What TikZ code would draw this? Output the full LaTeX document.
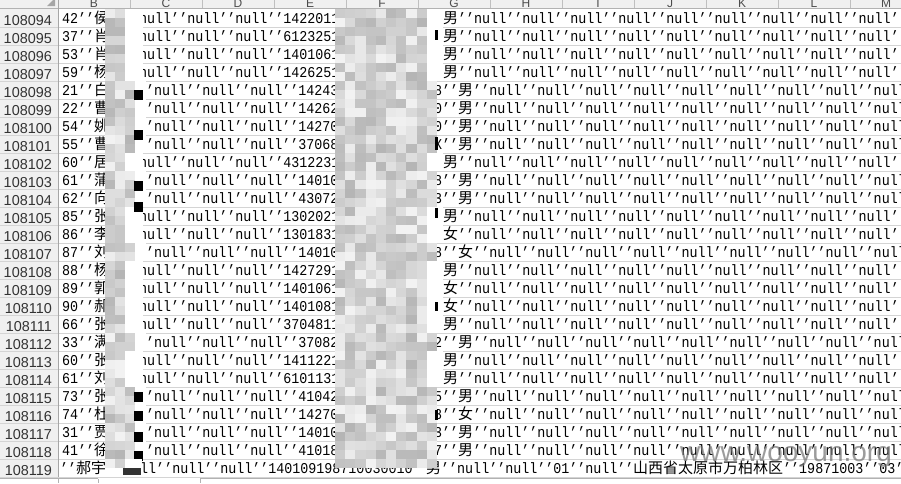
\documentclass[tikz,border=0pt]{standalone}
\usepackage{fontspec}
\setmonofont[FakeStretch=0.89]{Liberation Mono}
\newfontfamily\cjk{Noto Sans CJK SC}
\newfontfamily\numfont{Liberation Sans}
\newcommand{\zh}[1]{{\cjk #1}}
\newcommand{\nulltail}{’’null’’null’’null’’null’’null’’null’’null’’null’’null’’null’’}
\def\rowdata{108094/42/侯/0/1422011/0/男,%
108095/37/肖/0/6123251/0/男,%
108096/53/肖/0/1401061/0/男,%
108097/59/杨/0/1426251/0/男,%
108098/21/白/15/14243/8/男,%
108099/22/曹/15/14262/0/男,%
108100/54/姚/15/14270/0/男,%
108101/55/曹/15/37068/X/男,%
108102/60/居/0/4312231/0/男,%
108103/61/蒲/15/14010/8/男,%
108104/62/向/15/43072/3/男,%
108105/85/张/0/1302021/0/男,%
108106/86/李/0/1301831/0/女,%
108107/87/刘/15/14010/8/女,%
108108/88/杨/0/1427291/0/男,%
108109/89/郭/0/1401061/0/女,%
108110/90/郝/0/1401081/0/女,%
108111/66/张/0/3704811/0/男,%
108112/33/满/15/37082/2/男,%
108113/60/张/0/1411221/0/男,%
108114/61/刘/0/6101131/0/男,%
108115/73/张/15/41042/5/男,%
108116/74/杜/15/14270/8/女,%
108117/31/贾/15/14010/3/男,%
108118/41/徐/15/41018/7/男}
\begin{document}
\begin{tikzpicture}[x=1pt,y=-1pt,
    cell/.style={anchor=base west,inner sep=0pt,font=\ttfamily\fontsize{15}{15}\selectfont},
    rownum/.style={anchor=base east,inner sep=0pt,text=black!80,font=\numfont\fontsize{14.4}{14.4}\selectfont},
    colhdr/.style={anchor=base,inner sep=0pt,text=black!70,font=\numfont\fontsize{12}{12}\selectfont},
    gridline/.style={draw=black!17,line width=0.8pt},
    wmark/.style={anchor=base west,inner sep=0pt,text=black!55,opacity=0.7,font=\numfont\fontsize{28}{28}\selectfont}]
    \useasboundingbox (0,0) rectangle (901,483);
    \clip (0,0) rectangle (901,483);
    \fill[white] (0,0) rectangle (901,483);
    % sheet headers
    \fill[black!6] (0,0) rectangle (901,8);
    \fill[black!6] (0,8) rectangle (58,477);
    \foreach \x in {130,202,...,850} \draw[black!25] (\x,0) -- (\x,8);
    \foreach \l [count=\j from 0] in {B,...,M} \node[colhdr] (h\l) at (94+72*\j,7) {\l};
    \fill[black!35] (47,6) -- (55,6) -- (55,-2) -- cycle;
    \foreach \k in {1,...,26} \draw[gridline] (0,9+18*\k) -- (901,9+18*\k);
    \draw[black!30] (0,8.5) -- (901,8.5);
    \draw[black!35] (58,0) -- (58,477);
    \foreach \n/\pre/\nm/\sh/\id/\cut/\sex [count=\i from 0] in \rowdata {
        \pgfmathsetmacro\ry{9+18*\i}
        \node[rownum] (n\i) at (52,\ry+16) {\n};
        \node[cell] (a\i) at (62,\ry+14.5) {\pre’’\zh{\nm}};
        \ifnum\sh=0\relax
            \node[cell] (b\i) at (139,\ry+14.5) {null’’null’’null’’\id};
            \node[cell] (c\i) at (443,\ry+14.5) {\zh{\sex}\nulltail};
        \else
            \node[cell] (b\i) at (146,\ry+14.5) {’null’’null’’null’’\id};
            \node[cell] (c\i) at (434,\ry+14.5) {\cut’’\zh{\sex}\nulltail};
        \fi
    }
    \node[rownum] (n25) at (52,475) {108119};
    \node[cell] (a25) at (60,473.5) {’’\zh{郝宇}};
    \node[cell] (b25) at (124,473.5) {null’’null’’null’’140109198710030010};
    \node[cell] (c25) at (426,473.5) {\zh{男}’’null’’null’’01’’null’’};
    \node[cell] (d25) at (633,473.5) {\zh{山西省太原市万柏林区}’’19871003’’03’’};
    % mosaic over names and id numbers
    \pgfmathsetseed{3}
    \foreach \r in {0,...,50} {
        \foreach \k in {0,1,2} {
            \pgfmathtruncatemacro\gv{5+25*rnd}
            \fill[black!\gv] (105+10*\k,9+9*\r) rectangle ++(10,9);
        }
        \foreach \k in {0,...,9} {
            \pgfmathtruncatemacro\gv{5+25*rnd}
            \fill[black!\gv] (335+10.2*\k,9+9*\r) rectangle ++(10.2,9);
        }
    }
    \foreach \n/\pre/\nm/\sh/\id/\cut/\sex [count=\i from 0] in \rowdata {
        \ifnum\sh=0\relax
            \fill[white] (125,9+18*\i) rectangle ++(18,18);
            \fill[white] (427,9+18*\i) rectangle ++(16,18);
        \else
            \fill[white] (135,9+18*\i) rectangle ++(11,18);
        \fi
    }
    \foreach \y in {90,130,181,202,392,411,432,451} \fill (134,\y) rectangle ++(9,10);
    \foreach \y/\h in {30/10,137/13,208/10,302/9,410/10} \fill (435,\y) rectangle ++(3,\h);
    \fill[white] (125,459) rectangle (142,468);
    \fill[black!80] (123,468) rectangle (141,475);
    \node[wmark] (wm) at (680,461) {www.wooyun.org};
    % sheet tab bar
    \draw[black!30] (0,478.5) -- (98,478.5) (200,478.5) -- (901,478.5);
    \draw[black!30] (58,478.5) -- (58,483) (98,478.5) -- (98,483) (200,478.5) -- (200,483);
\end{tikzpicture}
\end{document}
